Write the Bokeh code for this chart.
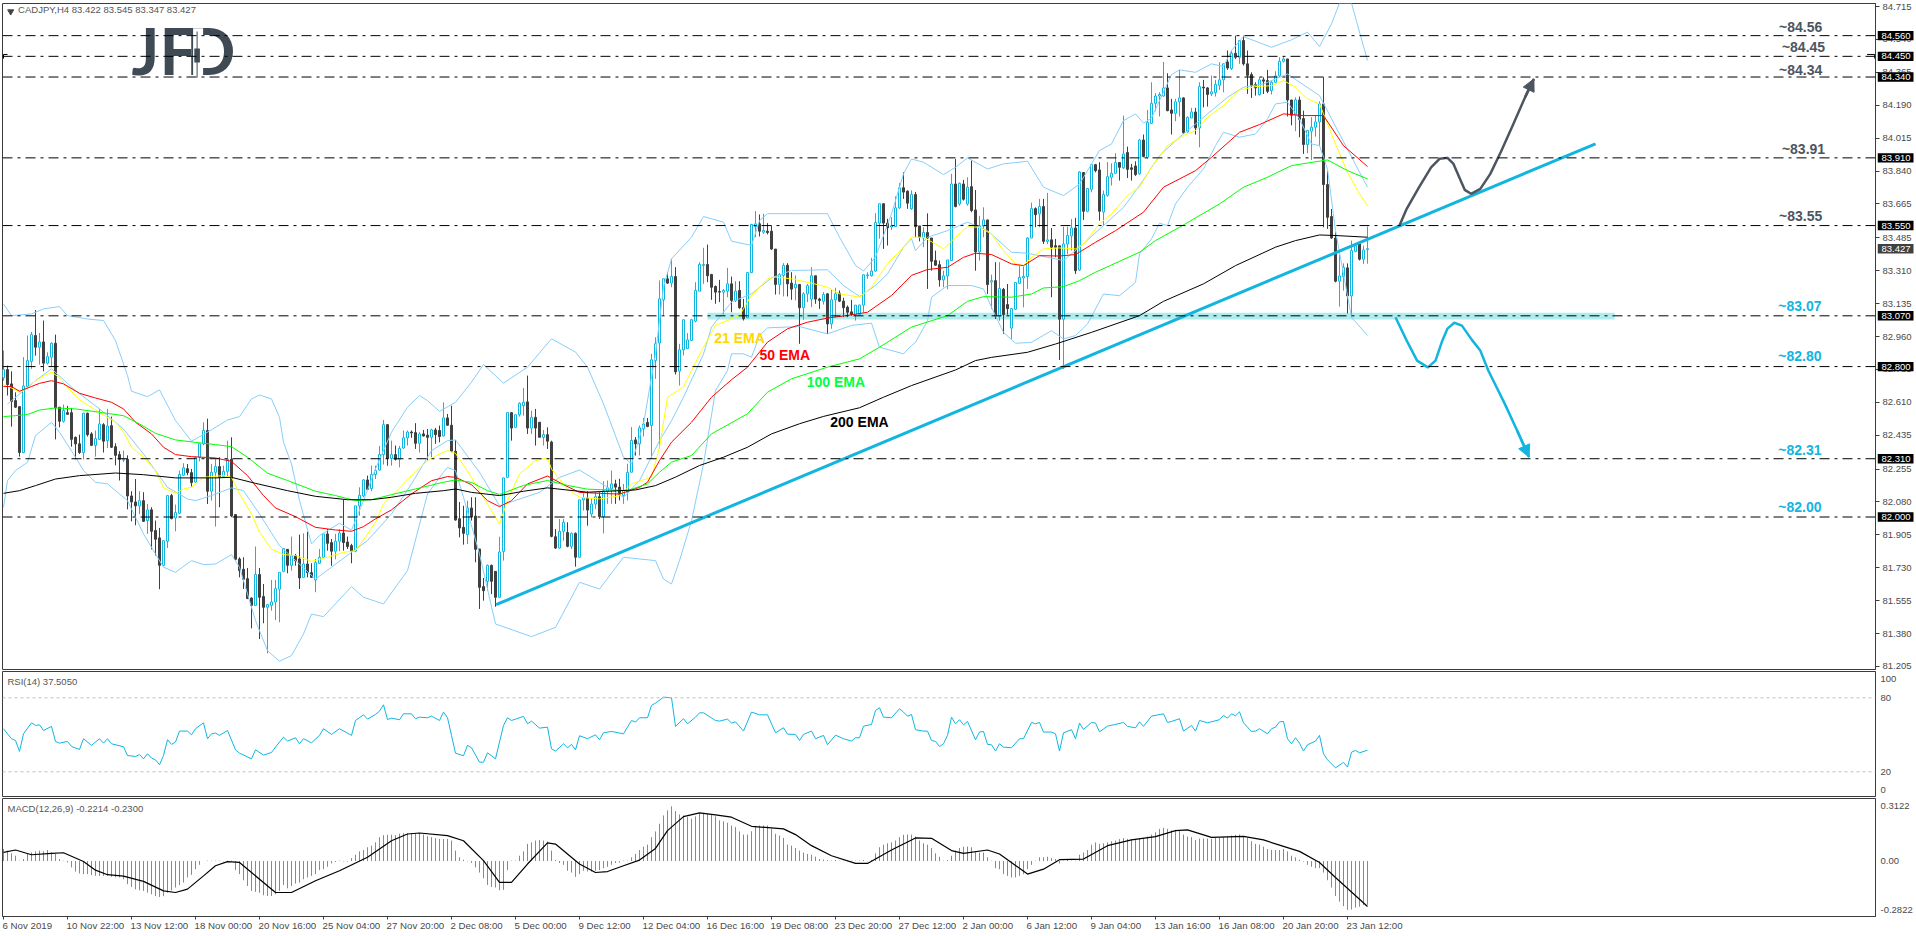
from bokeh.plotting import figure
from bokeh.models import (ColumnDataSource, FixedTicker, PrintfTickFormatter, Span,
                          Arrow, NormalHead, Range1d)
from bokeh.layouts import column, row
from bokeh.core.properties import value
from bokeh.embed import file_html
from bokeh.resources import INLINE

direction = ("UDDDDUUUDU" "DUUDDUDDDD" "UDDUUDUDDD" "UDDDUDUDDD" "UUDUUUDDUU" "UDUUDUUDDD" "DDDUDDUUUU" "UDUDDUDDUU"
             "UDDUUDDDUU" "UDUUUUDUDU" "UUDDUDDUDD" "UDDDDDUDDD" "DUDDUUUDUU" "UDUDDUDDDU" "UDUDUUDUUD" "UUUDDUUUDU"
             "UDUUUUDUDU" "UUUUUUDDDD" "UUDUDDUUUD" "UDDDUUDDUD" "UUUDDUDUUD" "DDDUUUUUUU" "DDUUUDDUDD" "UDDDDUUUDU"
             "DUDDUUDUDU" "DDUUUUUUDU" "DUDDDUUUDU" "DUUDDUUUUD" "UDDDUDUUUU" "UDDUUDUUDU" "DDUUUUDUDU" "DDDDUDDUUU"
             "UDDUDDUUUU" "DDDDUUDUUD" "UU")

high = [82.885,82.805,82.775,82.663,82.587,82.850,82.965,82.984,83.101,82.979,
83.045,82.876,82.929,82.970,82.584,82.598,82.591,82.580,82.428,82.438,
82.552,82.555,82.451,82.460,82.575,82.499,82.575,82.534,82.392,82.350,
82.353,82.328,82.137,82.202,82.137,82.132,82.069,82.052,81.981,81.942,
81.874,82.114,82.123,82.066,82.247,82.286,82.282,82.256,82.321,82.389,
82.504,82.523,82.282,82.307,82.318,82.273,82.406,82.424,82.013,81.786,
81.786,81.729,81.573,81.843,81.729,81.644,81.538,81.665,81.665,81.706,
81.832,81.830,81.896,81.803,81.906,81.913,81.921,81.754,81.777,81.830,
81.910,81.936,81.883,81.910,81.936,82.091,81.896,81.857,82.059,82.158,
82.202,82.220,82.273,82.273,82.378,82.516,82.495,82.406,82.380,82.378,
82.460,82.460,82.460,82.499,82.451,82.463,82.468,82.470,82.474,82.486,
82.610,82.548,82.592,82.410,82.080,82.060,82.087,82.105,82.105,81.830,
81.676,81.747,81.747,81.711,81.895,82.208,82.557,82.557,82.544,82.610,
82.686,82.752,82.566,82.575,82.504,82.463,82.477,82.406,81.936,81.989,
81.989,81.972,81.918,81.918,82.091,82.126,82.137,82.096,82.131,82.131,
82.190,82.194,82.247,82.198,82.203,82.176,82.283,82.478,82.425,82.487,
82.527,82.527,82.868,82.956,83.258,83.267,83.302,83.373,83.329,82.921,
83.049,82.978,83.054,83.249,83.355,83.432,83.449,83.293,83.231,83.261,
83.212,83.325,83.279,83.254,83.254,83.160,83.300,83.559,83.627,83.609,
83.613,83.563,83.550,83.425,83.297,83.350,83.350,83.302,83.285,83.237,
83.196,83.240,83.329,83.283,83.166,83.196,83.191,83.212,83.219,83.205,
83.166,83.125,83.155,83.127,83.130,83.290,83.302,83.378,83.616,83.666,
83.669,83.586,83.595,83.705,83.776,83.834,83.737,83.737,83.729,83.548,
83.541,83.615,83.484,83.417,83.364,83.310,83.367,83.825,83.904,83.779,
83.793,83.807,83.896,83.739,83.601,83.647,83.580,83.289,83.355,83.355,
83.218,83.239,83.112,83.247,83.337,83.332,83.488,83.672,83.647,83.692,
83.692,83.724,83.537,83.479,83.443,83.544,83.544,83.585,83.591,83.839,
83.832,83.747,83.874,83.878,83.887,83.736,83.887,83.881,83.935,83.888,
84.135,83.970,83.878,83.892,84.011,84.034,84.165,84.312,84.254,84.259,
84.420,84.360,84.224,84.224,84.378,84.232,84.130,84.176,84.176,84.312,
84.325,84.286,84.348,84.325,84.419,84.413,84.481,84.481,84.560,84.537,
84.560,84.481,84.365,84.312,84.339,84.339,84.378,84.321,84.371,84.445,
84.449,84.436,84.218,84.232,84.236,84.161,84.059,84.126,84.135,84.211,
84.339,83.839,83.638,83.514,83.396,83.349,83.349,83.470,83.452,83.461,
83.443,83.545]

body_top = [82.784,82.784,82.708,82.619,82.587,82.697,82.832,82.970,82.965,82.931,
82.931,82.853,82.924,82.924,82.584,82.566,82.555,82.555,82.424,82.389,
82.552,82.552,82.442,82.417,82.495,82.491,82.484,82.486,82.374,82.332,
82.307,82.307,82.112,82.080,82.087,82.087,82.038,82.038,81.928,81.889,
81.874,82.114,82.114,82.023,82.226,82.261,82.257,82.236,82.318,82.389,
82.460,82.460,82.238,82.268,82.268,82.243,82.307,82.307,82.013,81.777,
81.722,81.672,81.569,81.694,81.694,81.577,81.534,81.548,81.619,81.706,
81.832,81.828,81.795,81.795,81.777,81.750,81.750,81.704,81.757,81.786,
81.910,81.910,81.864,81.871,81.915,81.915,81.867,81.848,82.059,82.116,
82.197,82.197,82.226,82.247,82.332,82.491,82.491,82.332,82.332,82.364,
82.421,82.452,82.452,82.449,82.442,82.442,82.435,82.463,82.463,82.460,
82.527,82.527,82.488,82.350,81.991,81.945,82.048,82.048,82.005,81.830,
81.630,81.743,81.743,81.711,81.814,82.208,82.555,82.555,82.544,82.605,
82.610,82.612,82.530,82.530,82.504,82.438,82.438,82.399,81.895,81.924,
81.972,81.918,81.913,81.913,82.091,82.101,82.101,82.069,82.108,82.108,
82.140,82.155,82.176,82.176,82.159,82.141,82.237,82.407,82.410,82.474,
82.495,82.503,82.836,82.921,83.160,83.267,83.267,83.279,83.279,82.889,
83.049,82.942,83.049,83.205,83.343,83.343,83.343,83.290,83.226,83.199,
83.205,83.240,83.240,83.201,83.205,83.113,83.300,83.556,83.559,83.559,
83.524,83.520,83.520,83.425,83.290,83.338,83.339,83.244,83.237,83.237,
83.187,83.231,83.283,83.283,83.159,83.183,83.187,83.155,83.187,83.191,
83.148,83.116,83.091,83.127,83.127,83.288,83.288,83.308,83.566,83.666,
83.666,83.563,83.549,83.644,83.751,83.751,83.733,83.715,83.715,83.548,
83.513,83.513,83.484,83.364,83.342,83.282,83.367,83.771,83.771,83.775,
83.771,83.754,83.757,83.633,83.548,83.580,83.580,83.257,83.257,83.215,
83.211,83.130,83.108,83.247,83.275,83.279,83.484,83.640,83.640,83.651,
83.651,83.474,83.474,83.443,83.442,83.452,83.497,83.537,83.537,83.835,
83.832,83.747,83.874,83.874,83.846,83.715,83.810,83.828,83.885,83.885,
83.931,83.938,83.857,83.867,84.005,84.005,84.098,84.200,84.239,84.247,
84.282,84.282,84.165,84.208,84.229,84.229,84.126,84.154,84.154,84.289,
84.286,84.282,84.261,84.300,84.325,84.410,84.420,84.466,84.466,84.534,
84.534,84.410,84.353,84.300,84.325,84.325,84.321,84.312,84.346,84.424,
84.436,84.436,84.218,84.218,84.218,84.119,84.055,84.073,84.101,84.197,
84.197,83.768,83.598,83.484,83.282,83.328,83.325,83.417,83.443,83.452,
83.420,83.427]

body_bottom = [82.740,82.704,82.614,82.584,82.343,82.343,82.694,82.828,82.903,82.903,
82.818,82.818,82.850,82.580,82.509,82.509,82.546,82.413,82.389,82.343,
82.343,82.438,82.381,82.381,82.413,82.403,82.406,82.371,82.328,82.307,
82.303,82.112,82.080,82.059,82.059,81.977,81.981,81.924,81.882,81.743,
81.743,81.871,81.991,81.995,82.020,82.222,82.236,82.183,82.186,82.318,
82.389,82.137,82.137,82.238,82.211,82.215,82.243,82.006,81.775,81.715,
81.669,81.566,81.530,81.530,81.573,81.520,81.520,81.530,81.548,81.616,
81.711,81.743,81.743,81.768,81.676,81.679,81.704,81.679,81.665,81.754,
81.786,81.860,81.818,81.818,81.871,81.864,81.843,81.818,81.818,82.059,
82.112,82.147,82.151,82.226,82.250,82.332,82.311,82.311,82.307,82.307,
82.367,82.421,82.447,82.392,82.392,82.431,82.424,82.424,82.438,82.428,
82.431,82.488,82.350,81.984,81.942,81.913,81.906,82.002,81.828,81.626,
81.608,81.658,81.658,81.573,81.573,81.817,82.211,82.473,82.477,82.544,
82.592,82.473,82.473,82.473,82.424,82.424,82.403,81.897,81.835,81.835,
81.924,81.844,81.844,81.786,81.786,82.091,82.037,82.016,82.069,82.002,
82.002,82.137,82.150,82.159,82.120,82.114,82.132,82.238,82.389,82.389,
82.469,82.481,82.487,82.832,82.925,83.155,83.244,83.244,82.772,82.776,
82.889,82.896,82.939,83.042,83.201,83.338,83.283,83.222,83.196,83.196,
83.196,83.201,83.152,83.152,83.113,83.054,83.059,83.300,83.545,83.520,
83.515,83.513,83.425,83.237,83.237,83.285,83.240,83.212,83.219,83.113,
83.113,83.187,83.159,83.159,83.152,83.148,83.027,83.027,83.155,83.148,
83.113,83.089,83.077,83.077,83.077,83.127,83.283,83.283,83.308,83.563,
83.563,83.538,83.542,83.545,83.644,83.728,83.669,83.639,83.544,83.488,
83.484,83.484,83.360,83.339,83.261,83.261,83.282,83.364,83.651,83.665,
83.690,83.665,83.630,83.410,83.410,83.548,83.236,83.250,83.069,83.069,
83.076,83.108,83.005,83.105,83.243,83.271,83.279,83.484,83.608,83.612,
83.466,83.466,83.435,83.435,83.052,83.052,83.452,83.495,83.310,83.314,
83.626,83.626,83.743,83.842,83.626,83.622,83.711,83.807,83.828,83.860,
83.857,83.849,83.849,83.821,83.825,83.917,83.913,84.094,84.200,84.239,
84.239,84.161,84.147,84.147,84.208,84.044,84.048,84.122,84.069,84.069,
84.282,84.247,84.250,84.257,84.296,84.325,84.388,84.385,84.445,84.445,
84.410,84.349,84.296,84.282,84.247,84.318,84.264,84.268,84.312,84.346,
84.424,84.218,84.137,84.137,84.115,83.981,83.981,84.052,84.073,84.101,
83.768,83.594,83.484,83.254,83.254,83.279,83.176,83.176,83.413,83.371,
83.371,83.422]

low = [82.725,82.646,82.481,82.580,82.321,82.339,82.694,82.788,82.858,82.811,
82.775,82.811,82.800,82.413,82.477,82.502,82.546,82.374,82.307,82.335,
82.307,82.428,82.378,82.321,82.410,82.343,82.367,82.367,82.275,82.194,
82.293,82.041,81.977,81.956,82.016,81.974,81.910,81.828,81.795,81.616,
81.741,81.835,81.988,81.924,82.016,82.218,82.222,82.162,82.183,82.296,
82.381,82.069,82.087,81.949,82.052,82.211,82.211,81.999,81.772,81.679,
81.617,81.564,81.408,81.527,81.351,81.435,81.275,81.502,81.452,81.440,
81.706,81.701,81.715,81.741,81.617,81.676,81.679,81.676,81.600,81.750,
81.782,81.821,81.741,81.775,81.818,81.821,81.830,81.754,81.812,82.007,
82.105,82.144,82.137,82.202,82.247,82.279,82.273,82.273,82.300,82.264,
82.362,82.380,82.421,82.362,82.343,82.428,82.300,82.318,82.389,82.397,
82.428,82.486,82.344,81.981,81.892,81.853,81.856,81.981,81.759,81.511,
81.555,81.608,81.590,81.523,81.569,81.768,82.208,82.406,82.473,82.534,
82.539,82.442,82.442,82.380,82.424,82.380,82.362,81.892,81.830,81.832,
81.874,81.839,81.830,81.736,81.782,82.034,81.954,81.998,82.043,81.989,
81.913,82.070,82.070,82.070,82.088,82.070,82.088,82.238,82.327,82.327,
82.428,82.478,82.309,82.735,82.363,83.072,83.240,83.222,82.758,82.699,
82.859,82.893,82.939,83.036,83.201,83.240,83.249,83.155,83.134,83.143,
83.077,83.169,83.089,83.143,83.107,83.045,83.059,83.297,83.488,83.492,
83.506,83.503,83.421,83.183,83.183,83.173,83.173,83.155,83.152,82.921,
83.049,83.143,83.116,83.134,83.107,83.130,82.974,83.001,83.063,83.143,
83.063,83.063,83.070,83.045,83.070,83.089,83.267,83.279,83.304,83.480,
83.426,83.444,83.527,83.542,83.639,83.692,83.639,83.634,83.488,83.466,
83.435,83.213,83.310,83.337,83.225,83.222,83.211,83.364,83.647,83.656,
83.683,83.656,83.621,83.310,83.364,83.488,83.186,83.106,83.053,83.044,
82.974,83.076,82.947,83.101,83.239,83.115,83.213,83.484,83.541,83.541,
83.452,83.452,83.169,83.381,82.835,82.787,83.399,83.417,83.293,83.310,
83.580,83.621,83.727,83.833,83.576,83.550,83.704,83.763,83.825,83.789,
83.851,83.803,83.789,83.814,83.821,83.913,83.904,84.091,84.158,84.130,
84.236,84.158,84.034,84.105,84.130,84.037,84.044,84.122,84.034,83.966,
84.179,84.183,84.239,84.236,84.271,84.259,84.378,84.378,84.436,84.410,
84.401,84.250,84.229,84.241,84.241,84.250,84.254,84.247,84.307,84.339,
84.417,84.130,84.083,84.052,84.020,83.931,83.935,83.899,84.023,83.975,
83.541,83.532,83.479,83.248,83.119,83.204,83.083,83.062,83.408,83.364,
83.346,83.347]

ema21_bar = [0,2,4,6,8,10,12,14,16,19,23,28,30,32,35,38,40,43,45,47,50,52,55,57,59,62,64,67,70,73,77,81,85,88,90,93,95,98,102,106,109,111,113,
117,121,124,126,129,133,136,137,141,144,149,154,157,162,164,166,170,172,175,178,184,187,191,193,197,202,206,209,214,217,221,225,227,
230,233,235,238,241,244,247,250,253,255,257,260,264,268,270,274,277,281,284,287,291,295,298,301,305,309,313,317,320,323,326,329,330,331,333,336,339,341]
ema21_val = [82.704,82.686,82.663,82.686,82.725,82.750,82.772,82.740,82.690,82.623,82.569,82.504,82.451,82.371,82.318,82.247,82.155,82.126,82.149,82.158,82.211,82.215,82.220,82.211,82.123,82.016,81.919,81.830,81.800,81.795,81.764,81.786,81.812,81.821,81.878,81.972,82.070,82.132,82.220,82.300,82.335,82.353,82.339,
82.211,82.069,81.963,82.087,82.229,82.300,82.314,82.255,82.149,82.105,82.096,82.113,82.176,82.212,82.371,82.637,82.691,82.779,82.903,83.019,83.072,83.178,83.267,83.276,83.267,83.244,83.222,83.187,83.169,83.222,83.347,83.435,83.488,
83.488,83.452,83.426,83.488,83.544,83.541,83.505,83.417,83.346,83.337,83.381,83.426,83.431,83.426,83.452,83.559,83.612,83.709,83.754,83.860,83.975,84.029,84.055,84.126,84.188,84.271,84.289,84.294,84.321,84.286,84.224,84.197,84.144,84.091,83.984,83.833,83.718,83.656]

ema50_bar = [0,2,4,7,9,12,15,19,23,27,30,33,37,40,43,47,53,57,61,65,68,73,78,83,87,90,93,97,102,107,111,113,
117,121,124,127,131,136,140,144,149,154,159,161,164,167,172,177,182,186,191,196,201,206,211,216,222,227,
231,236,240,243,247,252,255,259,264,268,273,278,285,290,298,302,309,314,320,325,330,335,341]
ema50_val = [82.694,82.694,82.669,82.694,82.711,82.725,82.708,82.658,82.633,82.610,82.575,82.504,82.442,82.371,82.332,82.321,82.314,82.296,82.220,82.114,82.048,82.002,81.945,81.931,81.924,81.949,81.990,82.038,82.123,82.193,82.215,82.211,
82.172,82.087,82.055,82.087,82.176,82.218,82.172,82.131,82.126,82.122,82.158,82.185,82.300,82.398,82.504,82.637,82.730,82.797,82.930,83.001,83.036,83.058,83.072,83.089,83.178,83.285,
83.316,83.328,83.381,83.403,83.396,83.346,83.337,83.390,83.388,83.396,83.461,83.523,83.621,83.754,83.842,83.913,84.046,84.087,84.144,84.135,84.135,83.975,83.864]

ema100_bar = [0,3,6,9,13,18,24,30,34,38,43,48,53,57,61,66,71,78,83,88,92,97,103,110,113,117,121,124,130,136,141,146,156,161,164,167,172,177,186,191,197,206,214,219,227,
236,241,245,252,257,260,265,269,273,284,288,294,304,310,316,322,331,336,341]
ema100_val = [82.534,82.539,82.545,82.569,82.580,82.575,82.557,82.539,82.495,82.445,82.410,82.397,82.385,82.374,82.318,82.233,82.194,82.137,82.114,82.087,82.092,82.119,82.149,82.185,82.197,82.184,82.140,82.120,82.168,82.194,82.168,82.148,82.141,82.176,82.238,82.292,82.327,82.442,82.549,82.664,82.735,82.797,82.841,82.903,83.010,
83.071,83.147,83.172,83.169,83.186,83.218,83.225,83.257,83.302,83.408,83.470,83.541,83.665,83.754,83.807,83.869,83.899,83.842,83.798]

ema200_bar = [0,4,8,13,19,28,35,43,53,57,63,71,78,86,92,97,103,110,113,117,124,130,136,146,158,163,168,174,180,186,192,199,205,214,220,227,
238,243,247,256,263,272,284,290,300,308,318,323,329,333,341]
ema200_val = [82.126,82.140,82.167,82.202,82.220,82.234,82.225,82.208,82.208,82.211,82.179,82.140,82.110,82.092,82.092,82.105,82.126,82.140,82.149,82.131,82.114,82.137,82.155,82.132,82.144,82.167,82.212,82.274,82.318,82.371,82.442,82.496,82.535,82.581,82.637,82.699,
82.782,82.832,82.849,82.876,82.920,82.982,83.071,83.147,83.240,83.337,83.435,83.470,83.500,83.497,83.488]

bb_up_bar = [0,2,7,10,14,16,21,25,28,31,32,36,39,43,47,51,56,59,62,64,67,69,70,72,74,77,79,84,87,90,93,97,101,104,106,109,113,
117,120,125,131,137,143,146,150,155,157,160,163,165,167,172,175,180,182,187,189,191,199,206,209,213,215,218,222,225,
227,230,235,238,241,246,250,256,260,265,269,274,277,280,283,285,287,292,294,298,302,305,307,310,317,322,326,329,332,334,337,339,341]
bb_up_val = [83.133,83.071,83.080,83.107,83.119,83.071,83.053,83.045,82.938,82.752,82.669,82.640,82.676,82.513,82.403,82.451,82.516,82.534,82.628,82.649,82.628,82.530,82.397,82.282,82.087,81.857,81.901,81.967,81.930,82.087,82.256,82.451,82.584,82.646,82.619,82.562,82.610,
82.717,82.811,82.712,82.797,82.948,82.877,82.797,82.602,82.318,82.283,82.495,82.868,83.222,83.373,83.488,83.598,83.568,83.467,83.444,83.577,83.613,83.613,83.613,83.488,83.338,83.308,83.382,83.612,83.825,
83.904,83.887,83.821,83.860,83.910,83.851,83.878,83.892,83.754,83.709,83.771,83.949,83.984,84.108,84.144,84.094,84.122,84.353,84.378,84.365,84.410,84.396,84.481,84.555,84.498,84.538,84.579,84.502,84.623,84.733,84.733,84.579,84.428]

bb_mid_bar = [1,8,12,18,24,30,35,41,46,48,52,57,60,64,69,78,87,91,97,102,107,111,113,119,124,134,139,144,149,155,159,164,167,170,175,177,182,187,192,197,206,210,214,218,221,225,227,
228,231,236,241,246,252,256,261,265,269,275,280,284,289,294,299,306,310,315,321,329,334,341]
bb_mid_val = [82.601,82.725,82.788,82.672,82.575,82.468,82.335,82.158,82.096,82.087,82.114,82.155,82.140,82.016,81.848,81.670,81.812,81.875,82.016,82.176,82.353,82.406,82.410,82.238,82.060,82.131,82.211,82.250,82.184,82.105,82.193,82.406,82.512,82.637,82.867,83.010,83.143,83.187,83.272,83.311,83.315,83.231,83.173,83.231,83.293,83.435,83.480,
83.417,83.488,83.523,83.568,83.523,83.408,83.403,83.381,83.364,83.435,83.550,83.647,83.763,83.922,84.020,84.108,84.232,84.286,84.303,84.356,84.241,84.037,83.754]

bb_low_bar = [0,1,3,6,8,12,14,18,20,23,26,31,35,40,43,47,50,53,57,59,63,66,69,72,75,77,80,87,90,95,101,106,110,111,113,115,119,123,132,138,144,149,155,159,163,165,167,169,172,175,178,181,182,185,187,189,191,199,206,212,217,219,225,227,
228,231,232,236,242,245,247,250,253,257,262,265,268,271,275,279,283,284,287,289,291,293,296,300,303,305,309,313,316,318,321,324,327,329,331,333,337,341]
bb_low_val = [82.051,82.194,82.247,82.291,82.433,82.504,82.451,82.318,82.247,82.185,82.176,82.087,81.910,81.733,81.706,81.768,81.747,81.750,81.800,81.733,81.449,81.289,81.233,81.263,81.378,81.484,81.470,81.630,81.573,81.538,81.715,82.123,82.238,82.264,82.247,82.105,81.803,81.431,81.364,81.413,81.653,81.617,81.786,81.777,81.768,81.670,81.644,81.768,81.980,82.282,82.672,82.779,82.868,82.868,82.850,82.965,83.006,83.013,82.974,83.019,83.031,82.903,82.868,82.912,
82.929,83.044,83.169,83.231,83.231,83.213,83.115,82.982,82.924,82.929,82.991,82.947,82.965,83.027,83.186,83.177,83.248,83.399,83.479,83.562,83.550,83.665,83.754,83.851,83.975,84.046,84.020,84.037,84.117,84.197,84.206,84.117,83.984,83.975,83.851,83.523,83.062,82.965]

level_prices = [84.56,84.45,84.34,83.91,83.55,83.07,82.80,82.31,82.00]
level_names = ["84.560","84.450","84.340","83.910","83.550","83.070","82.800","82.310","82.000"]
note_texts = ["~84.56","~84.45","~84.34","~83.91","~83.55","~83.07","~82.80","~82.31","~82.00"]
note_bar = [443.9,444.6,443.9,444.6,443.9,443.7,443.7,443.7,443.7]
note_price = [84.561,84.455,84.334,83.914,83.556,83.079,82.813,82.316,82.010]
note_colors = ["#4d5660"]*5 + ["#12b5df"]*4

price_ticks = [84.715,84.540,84.365,84.190,84.015,83.840,83.665,83.485,83.310,83.135,82.960,82.785,82.610,82.435,82.255,82.080,81.905,81.730,81.555,81.380,81.205]
date_labels = ["6 Nov 2019","10 Nov 22:00","13 Nov 12:00","18 Nov 00:00","20 Nov 16:00","25 Nov 04:00","27 Nov 20:00","2 Dec 08:00","5 Dec 00:00","9 Dec 12:00","12 Dec 04:00","16 Dec 16:00","19 Dec 08:00","23 Dec 20:00","27 Dec 12:00","2 Jan 00:00","6 Jan 12:00","9 Jan 04:00","13 Jan 16:00","16 Jan 08:00","20 Jan 20:00","23 Jan 12:00"]

trend_bar = [123.15,398.0]
trend_price = [81.534,83.985]

up_path_bar = [349.0,350.8,353.9,356.9,359.0,361.0,362.5,364.1,365.3,366.9,369.2,371.7,374.3,377.3,380.4,382.6]
up_path_price = [83.550,83.639,83.754,83.860,83.905,83.910,83.878,83.799,83.740,83.719,83.745,83.825,83.940,84.082,84.233,84.330]
down_path_bar = [348.0,350.8,353.4,356.1,358.0,359.7,361.0,362.7,364.6,367.1,369.2,371.2,375.3,378.4,381.4]
down_path_price = [83.062,82.938,82.832,82.796,82.832,82.938,83.002,83.033,83.018,82.942,82.885,82.779,82.603,82.460,82.318]

rsi_bar = [0,2,3,4,5,7,8,9,10,12,13,14,16,17,19,20,22,24,25,26,27,30,31,33,34,35,36,37,38,39,40,41,42,43,44,46,47,48,50,51,52,53,54,56,58,59,62,63,65,67,68,70,71,73,74,75,77,79,80,82,84,87,88,90,91,93,94,95,96,97,99,100,102,103,104,106,107,109,110,111,112,113,115,116,117,119,120,121,123,125,126,127,130,131,132,134,136,137,138,140,141,142,143,144,146,148,149,150,152,155,157,158,159,
161,162,163,165,167,168,170,171,173,174,175,178,179,181,182,183,185,187,189,191,193,195,196,198,199,200,202,203,205,206,208,210,212,213,214,215,217,218,219,220,222,224,225,226,227,228,230,231,232,233,234,235,236,237,238,239,240,241,243,244,245,246,247,248,249,250,252,254,255,257,258,259,260,262,263,264,265,267,268,269,270,272,273,274,276,278,280,281,283,284,285,287,290,291,292,294,295,297,298,299,301,304,305,306,307,308,309,310,312,313,314,316,317,318,319,320,321,322,323,324,325,326,328,329,330,331,333,335,336,337,338,339,341]
rsi_val = [54.9,46.8,45.4,36.5,50.8,59.7,57.6,58.1,53.5,56.8,44.6,43.2,44.6,40.5,38.1,46.8,41.4,46.8,43.2,46.8,42.7,40.3,33.2,32.4,34.0,30.5,34.6,31.1,29.7,25.7,33.2,46.0,42.2,44.1,53.0,53.0,50.0,54.9,59.7,46.8,50.8,51.4,49.5,53.5,37.8,35.1,30.5,37.8,33.5,35.7,40.0,48.1,44.9,47.6,42.7,46.8,43.5,49.5,54.9,50.3,54.9,49.5,61.6,66.2,62.7,66.5,69.2,74.3,62.4,63.5,62.2,67.0,67.0,63.0,64.3,63.8,65.1,61.6,68.4,63.8,49.5,35.1,33.0,41.4,39.5,27.8,27.8,35.4,30.5,57.6,63.8,61.6,64.9,58.9,61.1,55.4,56.2,38.6,36.8,42.7,39.5,42.2,37.8,49.2,46.8,50.0,46.0,51.6,52.7,50.8,61.6,60.3,63.8,
63.8,73.8,75.7,80.5,80.0,56.8,63.0,58.9,64.3,67.8,67.8,61.6,61.1,62.7,59.5,60.5,53.0,68.4,66.2,66.2,51.6,55.7,50.5,50.3,45.4,50.3,53.0,46.8,49.5,41.9,49.7,46.8,44.9,47.6,47.6,57.0,58.4,69.7,71.9,64.3,63.8,71.1,68.4,65.1,66.5,54.1,53.0,53.0,45.4,44.6,40.5,42.7,49.5,64.3,58.9,62.2,58.1,60.8,46.0,52.2,52.7,42.2,41.9,36.8,42.7,40.0,39.5,46.8,46.8,60.0,58.9,60.0,52.2,52.2,50.8,36.8,51.6,54.1,46.8,59.5,54.3,60.0,59.5,52.4,57.0,58.4,60.0,56.8,55.7,60.5,56.8,65.1,67.0,60.0,60.8,63.0,53.0,57.6,53.0,61.6,59.7,62.2,65.7,63.5,67.0,65.4,68.6,59.7,52.7,53.0,54.9,50.8,54.9,56.2,60.5,60.8,46.8,42.7,47.6,43.2,36.8,41.9,44.9,49.5,34.6,29.7,23.2,27.6,23.8,35.9,37.3,35.4,37.5]

macd_hist = [.061,.053,.039,.027,.002,.010,.039,.044,.049,.053,
.049,.056,.044,.036,.010,.002,-.007,-.032,-.053,-.063,
-.066,-.066,-.071,-.075,-.075,-.075,-.075,-.080,-.083,-.083,
-.092,-.117,-.131,-.143,-.148,-.151,-.160,-.168,-.177,-.182,
-.178,-.160,-.148,-.134,-.121,-.109,-.083,-.070,-.041,-.019,
.000,.002,.002,.002,.002,-.002,.002,.002,-.046,-.066,
-.097,-.126,-.151,-.156,-.160,-.173,-.177,-.177,-.168,-.151,
-.121,-.138,-.126,-.114,-.109,-.092,-.083,-.075,-.066,-.046,
-.041,-.029,-.012,-.005,.002,-.002,-.003,.015,.032,.049,
.056,.070,.078,.095,.121,.131,.133,.133,.131,.138,
.141,.141,.141,.141,.141,.134,.126,.121,.116,.112,
.112,.112,.104,.053,.019,.007,-.002,-.009,-.032,-.058,
-.087,-.121,-.131,-.134,-.148,-.146,-.046,.002,.002,.027,
.049,.087,.095,.104,.107,.104,.099,.053,.005,-.010,
-.019,-.049,-.058,-.080,-.066,-.049,-.053,-.053,-.049,-.046,
-.036,-.029,-.019,-.010,-.007,.002,.002,.019,.036,.056,
.073,.083,.121,.150,.189,.231,.257,.277,.253,.236,
.231,.223,.214,.226,.240,.243,.240,.233,.226,.206,
.201,.194,.180,.172,.150,.134,.134,.151,.175,.180,
.180,.180,.163,.138,.129,.117,.083,.078,.066,.053,
.043,.036,.032,.022,.010,.007,.005,.002,.005,.002,
.002,.002,.002,.002,.002,.005,-.002,.005,.039,.070,
.083,.090,.095,.104,.121,.133,.134,.134,.124,.104,
.090,.083,.066,.039,.022,.002,.005,.027,.053,.066,
.073,.073,.070,.049,.043,.043,.019,.002,-.036,-.041,
-.066,-.075,-.083,-.083,-.075,-.066,-.041,-.019,.002,.019,
.019,.022,.015,.010,-.012,.002,.009,.002,.002,.032,
.043,.056,.083,.094,.087,.090,.095,.100,.104,.111,
.116,.112,.112,.112,.116,.117,.124,.134,.146,.163,
.168,.163,.155,.158,.158,.134,.124,.121,.107,.114,
.114,.114,.112,.117,.117,.121,.124,.129,.133,.134,
.124,.117,.100,.087,.083,.073,.061,.056,.056,.056,
.061,.049,.027,.019,.007,-.003,-.019,-.029,-.036,-.036,
-.058,-.097,-.134,-.177,-.206,-.228,-.247,-.245,-.236,-.231,
-.223,-.2214]

signal_bar = [0,3,7,12,15,20,23,26,30,35,40,43,46,50,53,56,59,62,68,72,78,84,91,97,101,104,111,115,120,124,127,131,136,138,144,148,151,155,159,
163,166,170,174,178,182,187,195,198,202,207,213,216,222,228,232,237,240,246,249,256,260,264,270,276,282,288,293,296,302,310,315,319,324,329,333,341]
signal_val = [.044,.056,.032,.039,.042,-.002,-.046,-.069,-.076,-.103,-.151,-.159,-.142,-.075,-.024,-.003,-.007,-.058,-.159,-.159,-.100,-.049,.019,.103,.137,.142,.129,.103,.002,-.108,-.108,-.015,.092,.086,-.015,-.058,-.053,-.024,.005,
.064,.154,.225,.244,.234,.222,.176,.163,.134,.078,.027,-.012,-.012,.056,.117,.115,.053,.039,.056,.036,-.066,-.041,.007,.010,.078,.107,.124,.154,.158,.120,.125,.107,.081,.049,-.007,-.083,-.230]

CYAN = "#12b5df"
DARK = "#404040"
FRAME = "#3c3c3c"
FONT = value("Liberation Sans")
XR = (-0.25, 468.0)


def base(height, border_top, border_bottom, yr, location_below=None):
    p = figure(width=1916, height=height, output_backend="svg", toolbar_location=None,
               x_range=Range1d(*XR), y_range=Range1d(*yr), y_axis_location="right",
               x_axis_location=location_below,
               min_border_left=2, min_border_right=41, min_border_top=border_top, min_border_bottom=border_bottom)
    p.grid.visible = False
    p.outline_line_color = FRAME
    p.outline_line_width = 1
    p.background_fill_color = "white"
    p.yaxis.axis_line_color = FRAME
    p.yaxis.major_tick_line_color = FRAME
    p.yaxis.minor_tick_line_color = None
    p.yaxis.major_tick_in = 0
    p.yaxis.major_label_text_font = "Liberation Sans"
    p.yaxis.major_label_text_font_size = "9.5px"
    p.yaxis.major_label_text_color = "#4a4a4a"
    p.yaxis.major_label_standoff = 3
    return p


# ---------- price panel
main = base(670, 3, 1, (81.189, 84.731))
main.yaxis.ticker = FixedTicker(ticks=price_ticks)
main.yaxis.formatter = PrintfTickFormatter(format="%.3f")
main.yaxis.major_tick_out = 4

main.quad(left=[176.0], right=[402.8], bottom=[83.050], top=[83.086], fill_color="#aeeced", line_color=None)

bars = list(range(len(high)))
is_up = [d == "U" for d in direction]
colors = [CYAN if u else DARK for u in is_up]
fills = ["white" if u else DARK for u in is_up]
src = ColumnDataSource(dict(x=bars, high=high, low=low, top=body_top, bottom=body_bottom, color=colors, fill=fills))
main.segment("x", "high", "x", "low", source=src, line_color="color", line_width=1)
main.vbar("x", 0.5, "top", "bottom", source=src, fill_color="fill", line_color="color", line_width=1)

BB = "#87cefa"
main.line(bb_up_bar, bb_up_val, line_color=BB, line_width=1)
main.line(bb_mid_bar, bb_mid_val, line_color=BB, line_width=1)
main.line(bb_low_bar, bb_low_val, line_color=BB, line_width=1)
main.line(ema21_bar, ema21_val, line_color="#ffff00", line_width=1)
main.line(ema50_bar, ema50_val, line_color="#ff0000", line_width=1)
main.line(ema100_bar, ema100_val, line_color="#00ff00", line_width=1)
main.line(ema200_bar, ema200_val, line_color="#000000", line_width=1)

for lv in level_prices:
    main.add_layout(Span(location=lv, dimension="width", line_color="black", line_width=1, line_dash="10 5 3 5"))

main.line(trend_bar, trend_price, line_color=CYAN, line_width=3)
main.line(up_path_bar, up_path_price, line_color="#4d5660", line_width=2.5, line_join="round")
main.line(down_path_bar, down_path_price, line_color=CYAN, line_width=2.5, line_join="round")
main.add_layout(Arrow(end=NormalHead(size=12, fill_color="#4d5660", line_color="#4d5660"), line_color="#4d5660", line_width=2.5,
                      x_start=up_path_bar[-2], y_start=up_path_price[-2], x_end=up_path_bar[-1], y_end=up_path_price[-1]))
main.add_layout(Arrow(end=NormalHead(size=12, fill_color=CYAN, line_color=CYAN), line_color=CYAN, line_width=2.5,
                      x_start=down_path_bar[-2], y_start=down_path_price[-2], x_end=down_path_bar[-1], y_end=down_path_price[-1]))

main.text(note_bar, note_price, text=note_texts, text_color=note_colors, text_font=FONT, text_font_size="14px",
          text_font_style="bold", text_baseline="bottom")
main.text([177.7], [82.909], text=["21 EMA"], text_color="#ffd700", text_font=FONT, text_font_size="14px", text_font_style="bold")
main.text([189.0], [82.820], text=["50 EMA"], text_color="#ff0000", text_font=FONT, text_font_size="14px", text_font_style="bold")
main.text([200.8], [82.675], text=["100 EMA"], text_color="#00ff40", text_font=FONT, text_font_size="14px", text_font_style="bold")
main.text([206.7], [82.462], text=["200 EMA"], text_color="#000000", text_font=FONT, text_font_size="14px", text_font_style="bold")

# logo
LOGO = "#3f4a55"
main.quad(left=[28.6], right=[59.9], bottom=[84.325], top=[84.64], fill_color="white", line_color=None)
main.text([32.0], [84.278], text=["JF"], text_color=LOGO, text_font=value("Lato"), text_font_size="65px",
          text_font_style="bold", text_baseline="bottom")
main.text([45.6], [84.278], text=["D"], text_color=LOGO, text_font=value("Lato"), text_font_size="65px",
          text_font_style="bold", text_baseline="bottom")
main.quad(left=[47.4], right=[49.9], bottom=[84.325], top=[84.60], fill_color="white", line_color=None)
main.segment([48.4], [84.582], [48.4], [84.337], line_color=LOGO, line_width=1)
main.quad(left=[47.7], right=[49.1], bottom=[84.417], top=[84.492], fill_color=LOGO, line_color=None)

# header
main.scatter([1.8], [84.688], marker="inverted_triangle", size=6, color="#444444")
main.text([3.65], [84.672], text=["CADJPY,H4  83.422 83.545 83.347 83.427"], text_color="#555555",
          text_font=FONT, text_font_size="9.5px", text_baseline="bottom")
main.line([0.0, 0.0, 1.0], [84.438, 84.460, 84.460], line_color="black", line_width=1)
main.line([465.9, 467.8, 467.8], [84.460, 84.460, 84.438], line_color="black", line_width=1)

# level boxes over the price scale: a transparent strip that shares the price range
side = figure(width=39, height=670, output_backend="svg", toolbar_location=None,
              x_range=Range1d(0, 39), y_range=main.y_range, x_axis_location=None, y_axis_location=None,
              min_border_left=0, min_border_right=0, min_border_top=3, min_border_bottom=1,
              margin=(0, 0, 0, -39))
side.grid.visible = False
side.outline_line_color = None
side.background_fill_alpha = 0
side.border_fill_alpha = 0
box_prices = level_prices + [83.427]
box_names = level_names + ["83.427"]
box_colors = ["black"] * len(level_prices) + ["#404040"]
half_box = 0.025
side.quad(left=[0] * len(box_prices), right=[36] * len(box_prices),
          bottom=[v - half_box for v in box_prices], top=[v + half_box for v in box_prices],
          fill_color=box_colors, line_color=None)
side.text([4] * len(box_prices), box_prices, text=box_names, text_color="white", text_font=FONT,
          text_font_size="9.5px", text_baseline="middle")

# ---------- RSI panel
rsi = base(127, 1, 1, (-0.03, 101.3))
rsi.yaxis.ticker = FixedTicker(ticks=[95.6, 80, 20, 5.4])
rsi.yaxis.major_label_overrides = {95.6: "100", 80: "80", 20: "20", 5.4: "0"}
rsi.yaxis.major_tick_out = 2
rsi.yaxis.major_tick_line_color = None
for lv in (80, 20):
    rsi.add_layout(Span(location=lv, dimension="width", line_color="#c0c0c0", line_width=1, line_dash="3 3"))
rsi.line(rsi_bar, rsi_val, line_color=CYAN, line_width=1)
rsi.text([1.0], [93.5], text=["RSI(14) 37.5050"], text_color="#555555", text_font=FONT, text_font_size="9.5px", text_baseline="middle")

# ---------- MACD panel
macd = base(139, 1, 20, (-0.2806, 0.3167), location_below="below")
macd.yaxis.ticker = FixedTicker(ticks=[0.2797, 0.0, -0.246])
macd.yaxis.major_label_overrides = {0.2797: "0.3122", 0: "0.00", -0.246: "-0.2822"}
macd.yaxis.major_tick_out = 2
macd.yaxis.major_tick_line_color = None
macd.segment(bars, [0.0] * len(bars), bars, macd_hist, line_color=CYAN, line_width=1)
macd.line(signal_bar, signal_val, line_color="black", line_width=1.2)
macd.text([1.0], [0.267], text=["MACD(12,26,9) -0.2214 -0.2300"], text_color="#555555", text_font=FONT, text_font_size="9.5px", text_baseline="middle")

# labels start at their tick, as on the terminal's time scale; the tick marks themselves are minor ticks
date_ticks = [16 * k for k in range(len(date_labels))]
EM = {" ": .278, ":": .278, "D": .722, "J": .5, "N": .722, "a": .556, "c": .5, "e": .556, "n": .556, "o": .556, "v": .5}
LABEL_PX = 9.7
def half_width_in_bars(text):
    return sum(EM.get(ch, .556) for ch in text) * LABEL_PX / 2 / 4
shifted = [t + half_width_in_bars(s) - 0.25 for t, s in zip(date_ticks, date_labels)]
macd.xaxis.ticker = FixedTicker(ticks=shifted, minor_ticks=date_ticks)
macd.xaxis.major_label_overrides = dict(zip(shifted, date_labels))
macd.xaxis.major_tick_line_color = None
macd.xaxis.major_tick_in = 0
macd.xaxis.major_tick_out = 3
macd.xaxis.minor_tick_in = 0
macd.xaxis.minor_tick_out = 3
macd.xaxis.minor_tick_line_color = FRAME
macd.xaxis.axis_line_color = FRAME
macd.xaxis.major_label_text_font = "Liberation Sans"
macd.xaxis.major_label_text_font_size = f"{LABEL_PX}px"
macd.xaxis.major_label_text_color = "#4a4a4a"
macd.xaxis.major_label_standoff = 0

page = column(row(main, side, spacing=0), rsi, macd, spacing=0)
open("out.html", "w").write(file_html(page, INLINE))
